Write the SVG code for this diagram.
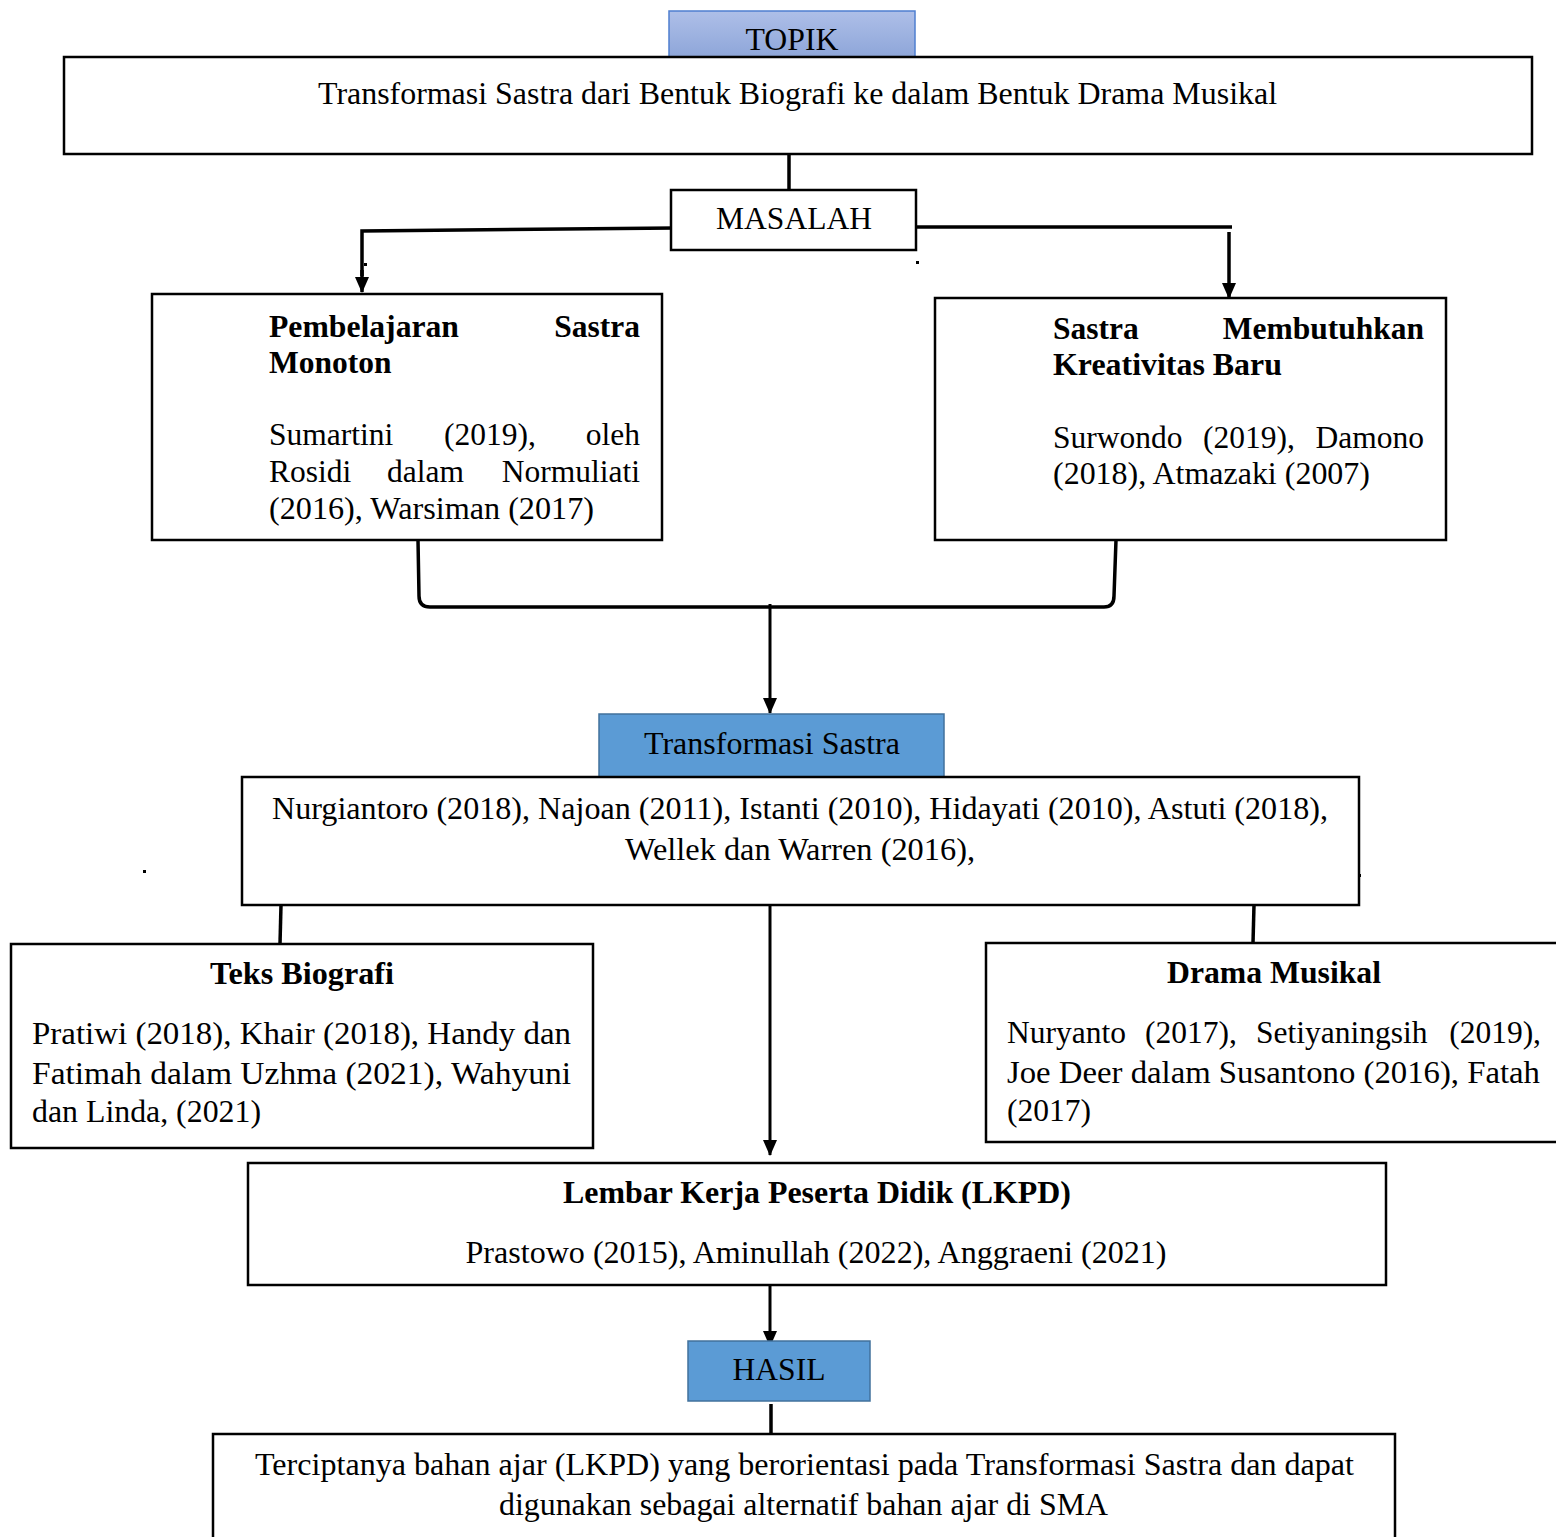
<svg xmlns="http://www.w3.org/2000/svg" width="1556" height="1537" viewBox="0 0 1556 1537">
<defs>
<linearGradient id="topikGrad" x1="0" y1="0" x2="0" y2="1">
<stop offset="0" stop-color="#aebfe8"/>
<stop offset="1" stop-color="#8ea6d9"/>
</linearGradient>
<marker id="arrow" markerUnits="userSpaceOnUse" markerWidth="16" markerHeight="16" viewBox="0 0 16 16" refX="15" refY="8" orient="auto">
<path d="M0,1 L16,8 L0,15 Z" fill="#000"/>
</marker>
<style>
text{font-family:"Liberation Serif","Times New Roman",Times,serif;font-size:31.5px;fill:#000}
.b{font-weight:bold}
.m{text-anchor:middle}
.e{text-anchor:end}
.box{fill:#fff;stroke:#000;stroke-width:2.5}
.blue{fill:#5b9bd5;stroke:#41719c;stroke-width:1.5}
.con{fill:none;stroke:#000;stroke-width:3.5}
.con2{fill:none;stroke:#000;stroke-width:3}
</style>
</defs>
<rect width="1556" height="1537" fill="#fff"/>

<g id="connectors">
<line class="con" x1="789" y1="154" x2="789" y2="190"/>
<polyline class="con" points="675,228 362,231 362,276"/>
<line class="con" x1="362" y1="270" x2="362" y2="292" marker-end="url(#arrow)"/>
<line class="con" x1="916" y1="227" x2="1232" y2="227"/>
<line class="con" x1="1229" y1="232" x2="1229" y2="298" marker-end="url(#arrow)"/>
<path class="con" d="M418,540 L419,596 Q419,607 430,607 L1104,607 Q1114,607 1114,596 L1116,540"/>
<line class="con2" x1="770" y1="604" x2="770" y2="713" marker-end="url(#arrow)"/>
<line class="con" x1="281" y1="905" x2="280" y2="944"/>
<line class="con" x1="1254" y1="905" x2="1253" y2="943"/>
<line class="con2" x1="770" y1="905" x2="770" y2="1155" marker-end="url(#arrow)"/>
<line class="con2" x1="770" y1="1285" x2="770" y2="1346" marker-end="url(#arrow)"/>
<line class="con" x1="771" y1="1404" x2="771" y2="1434"/>
<rect x="364" y="263" width="3" height="3" fill="#000"/>
<rect x="916" y="261" width="3" height="3" fill="#000"/>
<rect x="143" y="870" width="3" height="3" fill="#000"/>
<rect x="1358" y="874" width="3" height="3" fill="#000"/>
</g>

<g id="topik">
<rect x="669" y="11" width="246" height="46" fill="url(#topikGrad)" stroke="#4f7fd0" stroke-width="1.5"/>
<text class="m" x="792" y="50" textLength="93" lengthAdjust="spacingAndGlyphs">TOPIK</text>
</g>

<g id="judul">
<rect class="box" x="64" y="57" width="1468" height="97"/>
<text class="m" x="797.5" y="104" textLength="959" lengthAdjust="spacingAndGlyphs">Transformasi Sastra dari Bentuk Biografi ke dalam Bentuk Drama Musikal</text>
</g>

<g id="masalah">
<rect class="box" x="671" y="190" width="245" height="60"/>
<text class="m" x="794" y="229" textLength="156" lengthAdjust="spacingAndGlyphs">MASALAH</text>
</g>

<g id="pembelajaran">
<rect class="box" x="152" y="294" width="510" height="246"/>
<text class="b" x="269" y="337" textLength="190" lengthAdjust="spacingAndGlyphs">Pembelajaran</text>
<text class="b e" x="640" y="337">Sastra</text>
<text class="b" x="269" y="373">Monoton</text>
<text x="269" y="445">Sumartini</text>
<text x="444" y="445">(2019),</text>
<text class="e" x="640" y="445">oleh</text>
<text x="269" y="482">Rosidi</text>
<text x="387" y="482">dalam</text>
<text class="e" x="640" y="482">Normuliati</text>
<text x="269" y="519" textLength="325" lengthAdjust="spacingAndGlyphs">(2016), Warsiman (2017)</text>
</g>

<g id="kreativitas">
<rect class="box" x="935" y="298" width="511" height="242"/>
<text class="b" x="1053" y="339">Sastra</text>
<text class="b e" x="1424" y="339">Membutuhkan</text>
<text class="b" x="1053" y="375" textLength="229" lengthAdjust="spacingAndGlyphs">Kreativitas Baru</text>
<text x="1053" y="448">Surwondo</text>
<text x="1203" y="448">(2019),</text>
<text class="e" x="1424" y="448">Damono</text>
<text x="1053" y="484" textLength="317" lengthAdjust="spacingAndGlyphs">(2018), Atmazaki (2007)</text>
</g>

<g id="transformasi">
<rect class="blue" x="599" y="714" width="345" height="63"/>
<text class="m" x="772" y="754" textLength="256" lengthAdjust="spacingAndGlyphs">Transformasi Sastra</text>
</g>

<g id="teori">
<rect class="box" x="242" y="777" width="1117" height="128"/>
<text class="m" x="800" y="819" textLength="1056" lengthAdjust="spacingAndGlyphs">Nurgiantoro (2018), Najoan (2011), Istanti (2010), Hidayati (2010), Astuti (2018),</text>
<text class="m" x="800" y="860" textLength="350" lengthAdjust="spacingAndGlyphs">Wellek dan Warren (2016),</text>
</g>

<g id="biografi">
<rect class="box" x="11" y="944" width="582" height="204"/>
<text class="b m" x="302" y="984" textLength="184" lengthAdjust="spacingAndGlyphs">Teks Biografi</text>
<text x="32" y="1044" textLength="539" lengthAdjust="spacingAndGlyphs">Pratiwi (2018), Khair (2018), Handy dan</text>
<text x="32" y="1084" textLength="539" lengthAdjust="spacingAndGlyphs">Fatimah dalam Uzhma (2021), Wahyuni</text>
<text x="32" y="1122" textLength="229" lengthAdjust="spacingAndGlyphs">dan Linda, (2021)</text>
</g>

<g id="drama">
<rect class="box" x="986" y="943" width="580" height="199"/>
<text class="b m" x="1274" y="983" textLength="214" lengthAdjust="spacingAndGlyphs">Drama Musikal</text>
<text x="1007" y="1043">Nuryanto</text>
<text x="1145" y="1043">(2017),</text>
<text x="1256" y="1043">Setiyaningsih</text>
<text class="e" x="1541" y="1043">(2019),</text>
<text x="1007" y="1083" textLength="533" lengthAdjust="spacingAndGlyphs">Joe Deer dalam Susantono (2016), Fatah</text>
<text x="1007" y="1121" textLength="84" lengthAdjust="spacingAndGlyphs">(2017)</text>
</g>

<g id="lkpd">
<rect class="box" x="248" y="1163" width="1138" height="122"/>
<text class="b m" x="817" y="1203" textLength="508" lengthAdjust="spacingAndGlyphs">Lembar Kerja Peserta Didik (LKPD)</text>
<text class="m" x="816" y="1263" textLength="701" lengthAdjust="spacingAndGlyphs">Prastowo (2015), Aminullah (2022), Anggraeni (2021)</text>
</g>

<g id="hasil">
<rect class="blue" x="688" y="1341" width="182" height="60"/>
<text class="m" x="779" y="1380" textLength="93" lengthAdjust="spacingAndGlyphs">HASIL</text>
</g>

<g id="kesimpulan">
<rect class="box" x="213" y="1434" width="1182" height="110"/>
<text class="m" x="804.5" y="1475" textLength="1099" lengthAdjust="spacingAndGlyphs">Terciptanya bahan ajar (LKPD) yang berorientasi pada Transformasi Sastra dan dapat</text>
<text class="m" x="803.5" y="1515" textLength="609" lengthAdjust="spacingAndGlyphs">digunakan sebagai alternatif bahan ajar di SMA</text>
</g>
</svg>
